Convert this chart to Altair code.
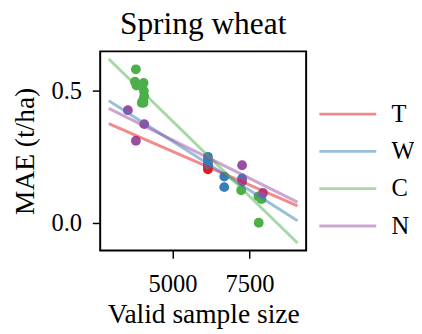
import altair as alt
import pandas as pd

series = ["T", "W", "C", "N"]
point_colors = {"T": "#e41a1c", "W": "#377eb8", "C": "#4daf4a", "N": "#984ea3"}
line_colors = {"T": "#e41a1c80", "W": "#377eb880", "C": "#4daf4a80", "N": "#984ea380"}

# scatter points per series (sample size, MAE)
t_x = [6150, 6150, 6150]
t_y = [0.203, 0.212, 0.22]
w_x = [6150, 6150, 6150, 6680, 6680, 7260]
w_y = [0.250, 0.236, 0.222, 0.175, 0.135, 0.168]
c_x = [3810, 3780, 3830, 4060, 4070, 4080, 4040, 4000, 4060, 7230, 7790, 7890, 7800]
c_y = [0.582, 0.535, 0.520, 0.530, 0.500, 0.480, 0.465, 0.455, 0.455, 0.123, 0.100, 0.090, 0.000]
n_x = [3550, 3810, 4080, 7260, 7260, 7940]
n_y = [0.427, 0.311, 0.374, 0.218, 0.156, 0.113]

# fitted line endpoints per series
line_x = [2930, 9060]
t_line = [0.376, 0.064]
w_line = [0.463, 0.008]
c_line = [0.621, -0.077]
n_line = [0.434, 0.078]

pts = []
for s, xs, ys in [("T", t_x, t_y), ("W", w_x, w_y), ("C", c_x, c_y), ("N", n_x, n_y)]:
    for a, b in zip(xs, ys):
        pts.append({"series": s, "x": a, "y": b, "pcolor": point_colors[s], "order": series.index(s)})
pts = pd.DataFrame(pts)

lines = []
for s, ys in [("T", t_line), ("W", w_line), ("C", c_line), ("N", n_line)]:
    for a, b in zip(line_x, ys):
        lines.append({"series": s, "x": a, "y": b})
lines = pd.DataFrame(lines)

FONT = "Liberation Serif"

xscale = alt.Scale(domain=[2650, 9340], nice=False, zero=False)
yscale = alt.Scale(domain=[-0.105, 0.65], nice=False, zero=False)

xaxis = alt.Axis(values=[5000, 7500], format="d", title="Valid sample size",
                 labelFont=FONT, labelPadding=14, titlePadding=5)
yaxis = alt.Axis(values=[0.0, 0.5], format=".1f", title="MAE (t/ha)",
                 labelFont=FONT, labelPadding=11, titlePadding=12)

points = alt.Chart(pts).mark_circle(size=100, opacity=1).encode(
    x=alt.X("x:Q", scale=xscale, axis=xaxis),
    y=alt.Y("y:Q", scale=yscale, axis=yaxis),
    color=alt.Color("pcolor:N", scale=None),
    order=alt.Order("order:Q"),
)

line_chart = alt.Chart(lines).mark_line(strokeWidth=3).encode(
    x=alt.X("x:Q", scale=xscale, axis=xaxis),
    y=alt.Y("y:Q", scale=yscale, axis=yaxis),
    color=alt.Color("series:N", sort=series,
                    scale=alt.Scale(domain=series, range=[line_colors[s] for s in series]),
                    legend=alt.Legend(title=None, orient="none", legendX=222, legendY=45,
                                      symbolType="stroke", symbolSize=3364, symbolStrokeWidth=3,
                                      clipHeight=38, rowPadding=0, padding=0,
                                      labelOffset=14)),
    detail="series:N",
)

chart = alt.layer(points, line_chart).properties(
    width=210, height=203,
    background="white",
    title=alt.TitleParams("Spring wheat", font=FONT, fontSize=32, fontWeight="normal",
                          color="black", offset=11),
    autosize=alt.AutoSizeParams(type="none"),
    padding={"left": 94, "top": 41, "right": 110, "bottom": 82},
).configure_view(
    stroke="black", strokeWidth=2
).configure_axis(
    grid=False, domain=False, tickColor="black", tickWidth=1.5, tickSize=8,
    labelFont=FONT, labelFontSize=25, labelColor="black",
    titleFont=FONT, titleFontSize=28, titleFontWeight="normal", titleColor="black",
).configure_legend(
    labelFont=FONT, labelFontSize=25, labelColor="black",
)

chart.save("out.html", embed_options={"renderer": "svg", "actions": False})
